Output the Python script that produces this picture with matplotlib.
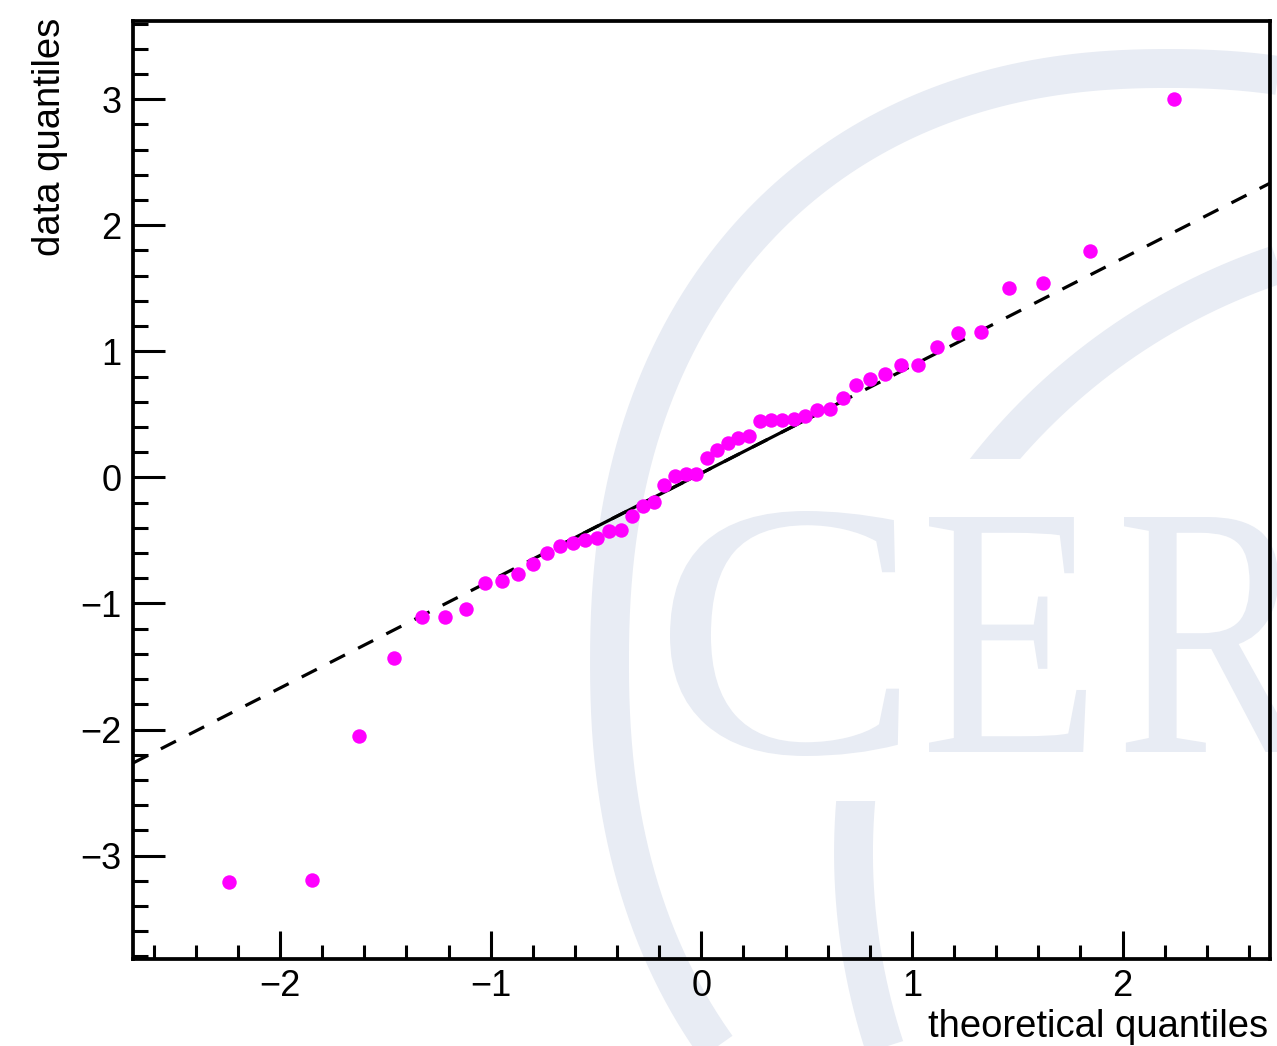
import numpy as np
import matplotlib
matplotlib.use("Agg")
import matplotlib.pyplot as plt
from matplotlib.ticker import MultipleLocator
from matplotlib.patches import Rectangle, PathPatch
from matplotlib.textpath import TextPath
from matplotlib.font_manager import FontProperties
from matplotlib.transforms import Affine2D

plt.rcParams["font.family"] = ["Liberation Sans", "DejaVu Sans"]

# Normal-theory quantiles for a sample of 50 (Blom plotting positions)
theoretical = [
    -2.2434, -1.8475, -1.6236, -1.4601, -1.3283, -1.2163, -1.1178, -1.0290,
    -0.9477, -0.8722, -0.8014, -0.7345, -0.6706, -0.6094, -0.5503, -0.4932,
    -0.4376, -0.3833, -0.3301, -0.2779, -0.2264, -0.1755, -0.1250, -0.0749,
    -0.0249, 0.0249, 0.0749, 0.1250, 0.1755, 0.2264, 0.2779, 0.3301,
    0.3833, 0.4376, 0.4932, 0.5503, 0.6094, 0.6706, 0.7345, 0.8014,
    0.8722, 0.9477, 1.0290, 1.1178, 1.2163, 1.3283, 1.4601, 1.6236,
    1.8475, 2.2434,
]
# Sorted sample values
observed = [
    -3.21, -3.19, -2.05, -1.43, -1.11, -1.11, -1.04, -0.84, -0.82, -0.77,
    -0.685, -0.598, -0.548, -0.521, -0.500, -0.482, -0.423, -0.421, -0.304, -0.230,
    -0.196, -0.063, 0.010, 0.029, 0.029, 0.153, 0.220, 0.272, 0.315, 0.328,
    0.447, 0.452, 0.458, 0.463, 0.487, 0.532, 0.545, 0.629, 0.730, 0.778,
    0.823, 0.889, 0.894, 1.034, 1.145, 1.153, 1.506, 1.542, 1.796, 2.998,
]
normal_quartiles = [-0.6745, 0.6745]
x_title = "theoretical quantiles"
y_title = "data quantiles"

x_range = (-2.7, 2.7)
y_range = (-3.82, 3.62)

# reference line through the first and third quartiles
data_quartiles = np.quantile(observed, [0.25, 0.75])
slope = (data_quartiles[1] - data_quartiles[0]) / (normal_quartiles[1] - normal_quartiles[0])
intercept = data_quartiles[0] - slope * normal_quartiles[0]

W, H = 1277, 1046
fig = plt.figure(figsize=(W / 100, H / 100), dpi=100)
fig.patch.set_facecolor("white")

# ---- faint background emblem (pixel coordinates, y downwards) ----
bg = fig.add_axes([0, 0, 1, 1], zorder=-1)
bg.set_xlim(0, W)
bg.set_ylim(H, 0)
bg.axis("off")
emblem = "#e8ecf4"
band = 28  # points

t = np.linspace(0, 2 * np.pi, 1441)
ct, st = np.cos(t), np.sin(t)
p = 2.24
sx = np.sign(ct) * np.abs(ct) ** (2 / p)
sy = np.sign(st) * np.abs(st) ** (2 / p)
bg.plot(1168 + 558.5 * sx, 662 + 593.5 * sy, color=emblem, lw=band,
        solid_capstyle="butt")

for (y0, hgt) in [(0, 459), (801, H - 801)]:
    ln, = bg.plot(1474 + 620.5 * ct, 853 + 620.5 * st, color=emblem, lw=band,
                  solid_capstyle="butt")
    clip = Rectangle((0, y0), W, hgt)
    clip.set_transform(bg.transData)
    ln.set_clip_path(clip)

serif = FontProperties(family="Liberation Serif")


def letter(ch, x0, top, bottom, right=None, xscale=None):
    """Place a glyph outline so that its ink box spans the given pixels."""
    tp = TextPath((0, 0), ch, size=100, prop=serif)
    ext = tp.get_extents()
    ys = (bottom - top) / ext.height
    xs = xscale if right is None else (right - x0) / ext.width
    tr = (Affine2D().translate(-ext.x0, -ext.y1)
          .scale(xs, -ys).translate(x0, top))
    bg.add_patch(PathPatch(tr.transform_path(tp), facecolor=emblem,
                           edgecolor="none"))
    return xs


letter("C", 670, 511, 756, right=899)
e_scale = letter("E", 929, 517, 752, right=1086)
letter("R", 1124, 517, 752, xscale=e_scale)

# ---- main plot ----
left, right, top, bottom = 132.7, 1270, 21, 959
ax = fig.add_axes([left / W, 1 - bottom / H, (right - left) / W, (bottom - top) / H])
ax.set_facecolor("none")

ax.set_xlim(*x_range)
ax.set_ylim(*y_range)

xx = np.array(x_range)
ax.plot(xx, intercept + slope * xx, color="black", lw=2.3,
        linestyle=(0, (5.3, 4.6)), zorder=2)
qx = np.array(normal_quartiles)
ax.plot(qx, intercept + slope * qx, color="black", lw=2.3,
        solid_capstyle="butt", zorder=2)
ax.plot(theoretical, observed, "o", color="#ff00ff", ms=10.4, mew=0, zorder=3)

for s in ax.spines.values():
    s.set_linewidth(2.7)
    s.set_color("black")

ax.xaxis.set_major_locator(MultipleLocator(1))
ax.xaxis.set_minor_locator(MultipleLocator(0.2))
ax.yaxis.set_major_locator(MultipleLocator(1))
ax.yaxis.set_minor_locator(MultipleLocator(0.2))

ax.tick_params(axis="x", which="major", direction="in", length=20, width=2.2,
               pad=7, labelsize=26)
ax.tick_params(axis="x", which="minor", direction="in", length=10, width=2.2)
ax.tick_params(axis="y", which="major", direction="in", length=23, width=2.2,
               pad=8, labelsize=26)
ax.tick_params(axis="y", which="minor", direction="in", length=11, width=2.2)

fig.text(1268 / W, 1 - 1037 / H, x_title, fontsize=27.5, ha="right", va="baseline")
fig.text(50 / W, 1 - 18 / H, y_title, fontsize=27.5, rotation=90,
         ha="center", va="top")

fig.savefig("out.png", dpi=100)
